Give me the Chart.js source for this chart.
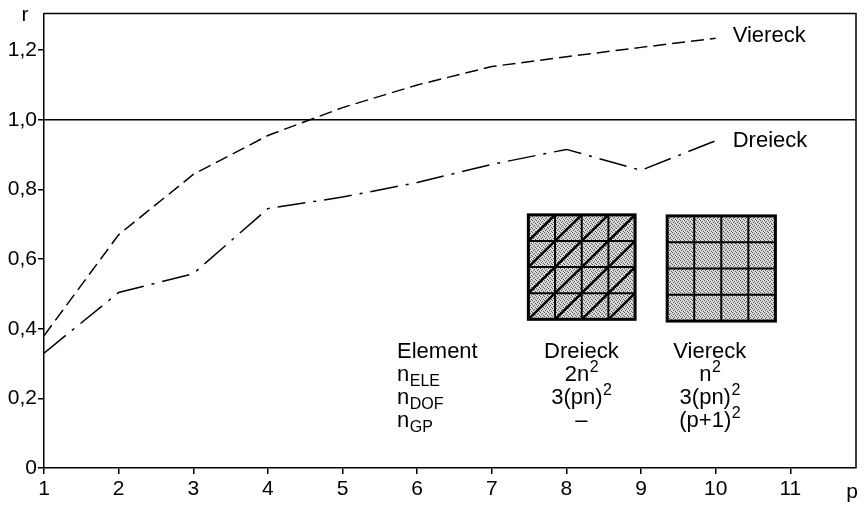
<!DOCTYPE html>
<html>
<head>
<meta charset="utf-8">
<script src="https://cdn.jsdelivr.net/npm/chart.js@4/dist/chart.umd.min.js"></script>
<style>
  html, body { margin: 0; padding: 0; background: #ffffff; }
  canvas { display: block; }
</style>
</head>
<body>
<canvas id="c" width="865" height="508"></canvas>
<script>
// ---- data ----
const pValues = [1, 2, 3, 4, 5, 6, 7, 8, 9, 10];
const viereckR = [0.38, 0.67, 0.843, 0.955, 1.035, 1.10, 1.153, 1.181, 1.208, 1.234];
const dreieckR = [0.33, 0.504, 0.558, 0.745, 0.778, 0.82, 0.872, 0.915, 0.855, 0.94];
const xTickValues = [1, 2, 3, 4, 5, 6, 7, 8, 9, 10, 11];
const yTickValues = [0, 0.2, 0.4, 0.6, 0.8, 1.0, 1.2];
const referenceLevel = 1.0;
const seriesNames = ['Viereck', 'Dreieck'];
const tableRows = [
  [[{t: 'Element'}], [{t: 'Dreieck'}], [{t: 'Viereck'}]],
  [[{t: 'n'}, {t: 'ELE', sub: true}], [{t: '2n'}, {t: '2', sup: true}], [{t: 'n'}, {t: '2', sup: true}]],
  [[{t: 'n'}, {t: 'DOF', sub: true}], [{t: '3(pn)'}, {t: '2', sup: true}], [{t: '3(pn)'}, {t: '2', sup: true}]],
  [[{t: 'n'}, {t: 'GP', sub: true}], [{t: '\u2013'}], [{t: '(p+1)'}, {t: '2', sup: true}]]
];

const X_MIN = 1, X_MAX = 11.88, Y_MIN = 0, Y_MAX = 1.305;
const FONT = '"Liberation Sans", Arial, Helvetica, sans-serif';
const MAIN_PX = 22, SMALL_PX = 16;

function pts(ys) { return pValues.map((p, i) => ({x: p, y: ys[i]})); }

// stipple pattern for the mesh insets
function makePattern(ctx) {
  const pc = document.createElement('canvas');
  pc.width = 4; pc.height = 4;
  const g = pc.getContext('2d');
  g.fillStyle = '#d8d8d8'; g.fillRect(0, 0, 4, 4);
  g.fillStyle = '#5a5a5a';
  g.fillRect(0, 0, 1, 1); g.fillRect(2, 1, 1, 1); g.fillRect(1, 2, 1, 1); g.fillRect(3, 3, 1, 1);
  return ctx.createPattern(pc, 'repeat');
}

function fontFor(p) { return ((p.sub || p.sup) ? SMALL_PX : MAIN_PX) + 'px ' + FONT; }
function richWidth(ctx, parts) {
  let w = 0;
  for (const p of parts) { ctx.font = fontFor(p); w += ctx.measureText(p.t).width; }
  return w;
}
function drawRich(ctx, parts, x, y, align) {
  const w = richWidth(ctx, parts);
  let cx = align === 'center' ? x - w / 2 : x;
  ctx.textAlign = 'left';
  ctx.textBaseline = 'alphabetic';
  ctx.fillStyle = '#000';
  for (const p of parts) {
    ctx.font = fontFor(p);
    const dy = p.sub ? 5 : (p.sup ? -9 : 0);
    ctx.fillText(p.t, cx, y + dy);
    cx += ctx.measureText(p.t).width + (p.sup ? 0 : 0.5);
  }
}

function drawMesh(ctx, x0, y0, x1, y1, diag, pattern) {
  const n = 4;
  ctx.save();
  ctx.fillStyle = pattern;
  ctx.fillRect(x0, y0, x1 - x0, y1 - y0);
  ctx.strokeStyle = '#000';
  ctx.lineWidth = 2;
  ctx.beginPath();
  for (let i = 1; i < n; i++) {
    const x = x0 + (x1 - x0) * i / n;
    const y = y0 + (y1 - y0) * i / n;
    ctx.moveTo(x, y0); ctx.lineTo(x, y1);
    ctx.moveTo(x0, y); ctx.lineTo(x1, y);
  }
  ctx.stroke();
  if (diag) {
    ctx.lineWidth = 2.5;
    ctx.beginPath();
    for (let i = 0; i < n; i++) {
      for (let j = 0; j < n; j++) {
        const ax = x0 + (x1 - x0) * i / n, bx = x0 + (x1 - x0) * (i + 1) / n;
        const ay = y0 + (y1 - y0) * (j + 1) / n, by = y0 + (y1 - y0) * j / n;
        ctx.moveTo(ax, ay); ctx.lineTo(bx, by);
      }
    }
    ctx.stroke();
  }
  ctx.lineWidth = 3;
  ctx.strokeRect(x0, y0, x1 - x0, y1 - y0);
  ctx.restore();
}

const decorPlugin = {
  id: 'decor',
  afterDatasetsDraw(chart) {
    const ctx = chart.ctx;
    const a = chart.chartArea;
    const xs = chart.scales.x, ys = chart.scales.y;
    ctx.save();
    // frame top and right
    ctx.strokeStyle = '#000';
    ctx.lineWidth = 1.5;
    ctx.beginPath();
    ctx.moveTo(a.left, a.top); ctx.lineTo(a.right, a.top); ctx.lineTo(a.right, a.bottom);
    ctx.stroke();

    // axis titles
    ctx.fillStyle = '#000';
    ctx.font = '21px ' + FONT;
    ctx.textAlign = 'center'; ctx.textBaseline = 'alphabetic';
    ctx.fillText('r', a.left - 19, a.top + 7);
    ctx.fillText('p', a.right - 4, a.bottom + 30);

    // series labels at line ends
    ctx.font = MAIN_PX + 'px ' + FONT;
    ctx.textAlign = 'left'; ctx.textBaseline = 'middle';
    const last = pValues.length - 1;
    ctx.fillText(seriesNames[0], xs.getPixelForValue(pValues[last]) + 17, ys.getPixelForValue(viereckR[last]) - 2);
    ctx.fillText(seriesNames[1], xs.getPixelForValue(pValues[last]) + 17, ys.getPixelForValue(dreieckR[last]));

    // mesh insets
    const pattern = makePattern(ctx);
    drawMesh(ctx, xs.getPixelForValue(7.49), ys.getPixelForValue(0.727),
             xs.getPixelForValue(8.92), ys.getPixelForValue(0.427), true, pattern);
    drawMesh(ctx, xs.getPixelForValue(9.35), ys.getPixelForValue(0.724),
             xs.getPixelForValue(10.80), ys.getPixelForValue(0.422), false, pattern);

    // table
    const colX = [xs.getPixelForValue(5.73), xs.getPixelForValue(8.2), xs.getPixelForValue(9.92)];
    const rowY = [ys.getPixelForValue(0.316), ys.getPixelForValue(0.25), ys.getPixelForValue(0.184), ys.getPixelForValue(0.118)];
    tableRows.forEach((row, r) => {
      drawRich(ctx, row[0], colX[0], rowY[r], 'left');
      drawRich(ctx, row[1], colX[1], rowY[r], 'center');
      drawRich(ctx, row[2], colX[2], rowY[r], 'center');
    });
    ctx.restore();
  }
};

const lineStyle = {borderColor: '#000', borderWidth: 1.5, pointRadius: 0, tension: 0, fill: false};

new Chart(document.getElementById('c'), {
  type: 'line',
  data: {
    datasets: [
      Object.assign({label: seriesNames[0], data: pts(viereckR), borderDash: [13, 6]}, lineStyle),
      Object.assign({label: seriesNames[1], data: pts(dreieckR), borderDash: [28, 8, 3, 8]}, lineStyle),
      Object.assign({label: 'ref', data: [{x: X_MIN, y: referenceLevel}, {x: X_MAX, y: referenceLevel}]}, lineStyle)
    ]
  },
  options: {
    responsive: false,
    animation: false,
    devicePixelRatio: 1,
    layout: {padding: {top: 10, right: 9, left: 0, bottom: 0}},
    plugins: {legend: {display: false}, tooltip: {enabled: false}},
    scales: {
      x: {
        type: 'linear', min: X_MIN, max: X_MAX,
        afterBuildTicks: s => { s.ticks = xTickValues.map(v => ({value: v})); },
        afterFit: s => { s.height = 40; },
        ticks: {color: '#000', font: {size: 21, family: FONT}, padding: 3, maxRotation: 0, autoSkip: false,
                callback: v => String(v)},
        grid: {drawOnChartArea: false, drawTicks: true, tickLength: 6, color: '#000', lineWidth: 1.5},
        border: {color: '#000', width: 1.5}
      },
      y: {
        type: 'linear', min: Y_MIN, max: Y_MAX,
        afterBuildTicks: s => { s.ticks = yTickValues.map(v => ({value: v})); },
        afterFit: s => { s.width = 44; },
        ticks: {color: '#000', font: {size: 21, family: FONT}, padding: 1, autoSkip: false,
                callback: v => v === 0 ? '0' : v.toFixed(1).replace('.', ',')},
        grid: {drawOnChartArea: false, drawTicks: true, tickLength: 6, color: '#000', lineWidth: 1.5},
        border: {color: '#000', width: 1.5}
      }
    }
  },
  plugins: [decorPlugin]
});
</script>
</body>
</html>
